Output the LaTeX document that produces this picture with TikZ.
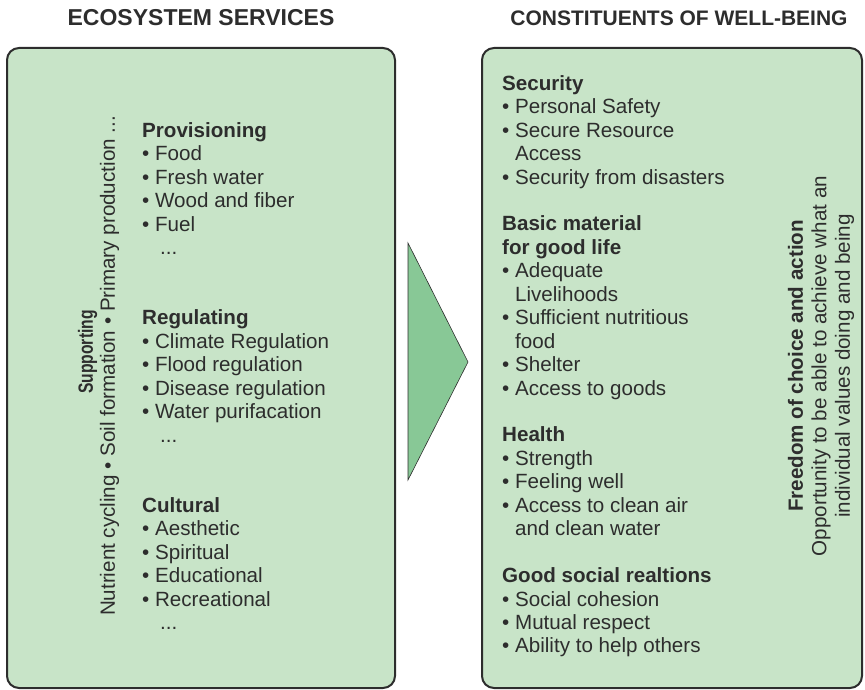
\documentclass[tikz,border=0pt]{standalone}
\usepackage{fontspec}
\setmainfont{Liberation Sans}
\usetikzlibrary{positioning}
\definecolor{panelgreen}{RGB}{200,228,200}
\definecolor{arrowgreen}{RGB}{136,200,150}
\definecolor{inkgray}{RGB}{45,45,45}

\begin{document}
\begin{tikzpicture}[x=1pt, y=-1pt,
    panel/.style={draw=inkgray, line width=2pt, fill=panelgreen, rounded corners=12pt,
                  minimum width=#1, minimum height=640pt, inner sep=0pt},
    title/.style={font=\bfseries\fontsize{#1}{26}\selectfont, text=inkgray, anchor=base},
    list/.style={font=\fontsize{20.6}{23.45}\selectfont, text=inkgray, align=left,
                 anchor=north west, inner sep=0pt},
    side/.style={font=\fontsize{20.6}{23.45}\selectfont, text=inkgray, align=center,
                 rotate=90, inner sep=0pt}]
    \useasboundingbox (0,0) rectangle (865,690);

    % the two panels and the arrow between them
    \node [panel=388pt] (services) at (201,368) {};
    \node [panel=380pt] (wellbeing) at (672,368) {};
    \coordinate (tip) at (468,362);
    \draw [draw=inkgray, line width=0.6pt, fill=arrowgreen] (408,243) -- (tip) -- (408,480) -- cycle;

    % titles
    \node [title=23] (servicestitle) at (201,26) {ECOSYSTEM SERVICES};
    \node [title=21] (wellbeingtitle) at (679,26) {CONSTITUENTS OF WELL-BEING};

    % ecosystem services
    \node [side] (supporting) at (87.5,352) {\scalebox{0.76}[1]{\textbf{Supporting}}};
    \node [side] (supportlist) at (109.5,366) {Nutrient cycling • Soil formation • Primary production ...};
    \node [list] (provisioning) at (142,120.6) {\strut\textbf{Provisioning}\\
        • Food\\ • Fresh water\\ • Wood and fiber\\ • Fuel\\ \hspace{18pt}...};
    \node [list] (regulating) at (142,308.2) {\strut\textbf{Regulating}\\
        • Climate Regulation\\ • Flood regulation\\ • Disease regulation\\
        • Water purifacation\\ \hspace{18pt}...};
    \node [list] (cultural) at (142,495.8) {\strut\textbf{Cultural}\\
        • Aesthetic\\ • Spiritual\\ • Educational\\ • Recreational\\ \hspace{18pt}...};

    % constituents of well-being
    \node [list] (security) at (502,73.6) {\strut\textbf{Security}\\
        • Personal Safety\\ • Secure Resource\\ \phantom{• }Access\\
        • Security from disasters};
    \node [list] (material) at (502,214.3) {\strut\textbf{Basic material}\\
        \textbf{for good life}\\ • Adequate\\ \phantom{• }Livelihoods\\
        • Sufficient nutritious\\ \phantom{• }food\\ • Shelter\\ • Access to goods};
    \node [list] (health) at (502,425.3) {\strut\textbf{Health}\\
        • Strength\\ • Feeling well\\ • Access to clean air\\ \phantom{• }and clean water};
    \node [list] (social) at (502,566.0) {\strut\textbf{Good social realtions}\\
        • Social cohesion\\ • Mutual respect\\ • Ability to help others};
    \node [side] (freedom) at (821.75,366) {\strut\textbf{Freedom of choice and action}\\
        \strut Opportunity to be able to achieve what an\\
        \strut individual values doing and being};
\end{tikzpicture}
\end{document}
